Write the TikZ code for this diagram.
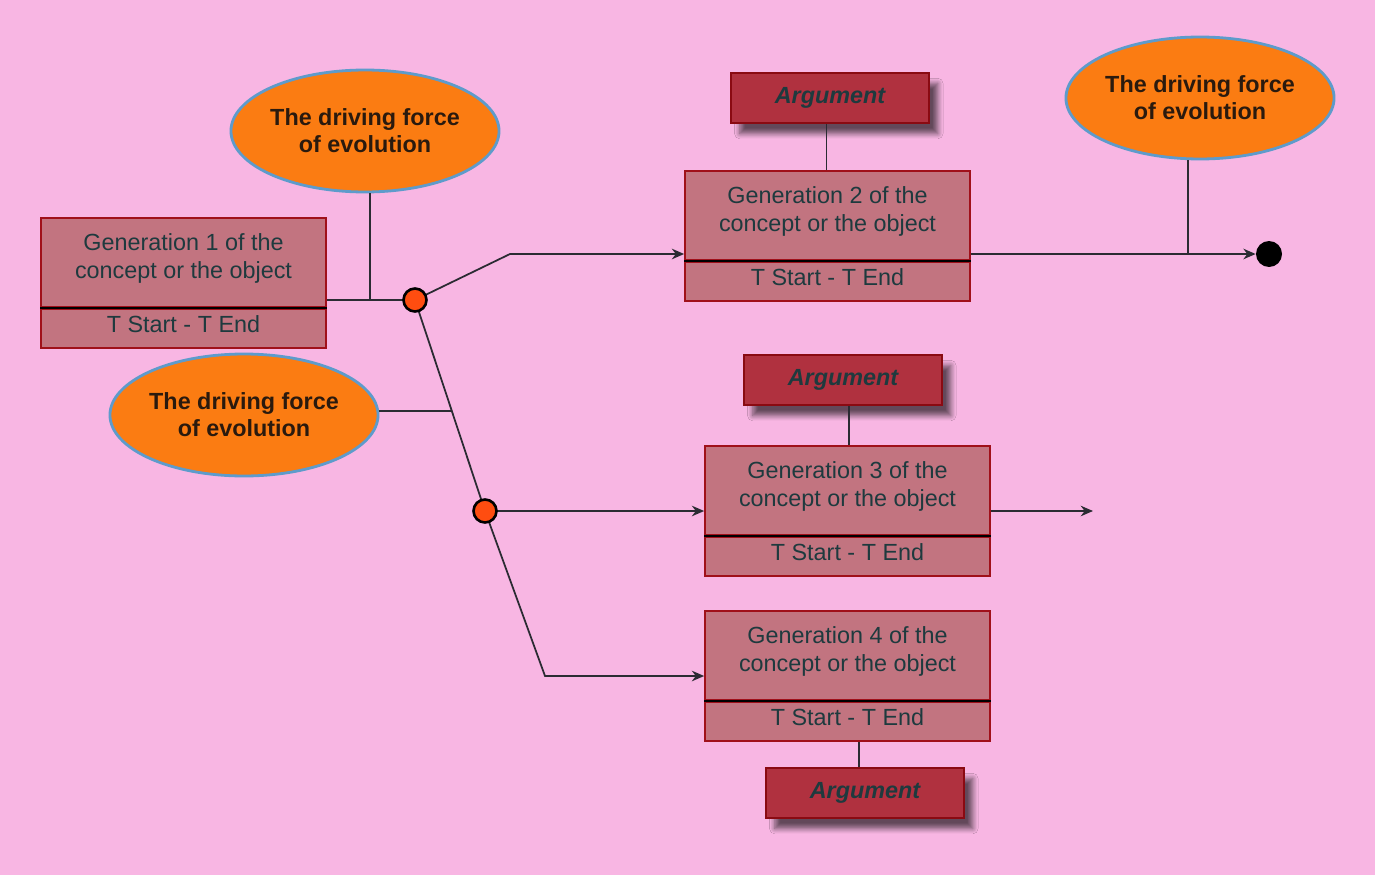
\documentclass[tikz,border=0pt]{standalone}
\usepackage{fontspec}
\setmainfont{Liberation Sans}
\usetikzlibrary{positioning,arrows.meta,shapes.geometric,shadows,shadows.blur}
\definecolor{bgpink}{HTML}{F8B6E3}
\definecolor{genfill}{HTML}{C27480}
\definecolor{genborder}{HTML}{A0101A}
\definecolor{argfill}{HTML}{B0313F}
\definecolor{argborder}{HTML}{8A0A12}
\definecolor{txt}{HTML}{1E3A3E}
\definecolor{forcefill}{HTML}{FB7C12}
\definecolor{forceborder}{HTML}{5E9BCB}
\definecolor{forcetxt}{HTML}{2A1A0E}
\definecolor{juncfill}{HTML}{FF4D10}
\definecolor{linkgray}{HTML}{2B2B33}

\begin{document}
\begin{tikzpicture}[x=0.02cm,y=-0.02cm]
  % Settings
  \tikzset{
    gen/.style={draw=genborder, fill=genfill, line width=1pt, minimum width=5.7cm, minimum height=1.78cm, align=center, text=txt, text depth=7.3pt, font=\fontsize{13.3}{16}\selectfont},
    tspan/.style={gen, minimum height=0.78cm, text depth=4.6pt},
    arg/.style={draw=argborder, fill=argfill, line width=1pt, minimum width=3.96cm, minimum height=1cm, text=txt, font=\fontsize{13.3}{15}\selectfont\bfseries\itshape, blur shadow={shadow xshift=5pt, shadow yshift=-6pt, shadow blur steps=8, shadow blur radius=3pt, shadow opacity=60}},
    force/.style={ellipse, draw=forceborder, fill=forcefill, line width=1.6pt, inner sep=0pt, minimum width=5.32cm, minimum height=2.44cm, align=center, text=forcetxt, font=\fontsize{13.3}{15.5}\selectfont\bfseries},
    junc/.style={circle, draw=black, fill=juncfill, line width=1.5pt, minimum size=0.46cm, inner sep=0pt},
    enddot/.style={circle, fill=black, minimum size=0.52cm, inner sep=0pt},
    link/.style={draw=linkgray, line width=1pt},
    arr/.style={link, -{Stealth[length=7pt,width=6pt]}},
    divider/.style={draw=black, line width=1.2pt},
  }
  \fill[bgpink] (0,0) rectangle (1375,875);
  % Generations
  \node[gen] (gen1) at (183.5,262.5) {Generation 1 of the\\concept or the object};
  \node[tspan, below=0pt of gen1] (time1) {T Start - T End};
  \node[gen] (gen2) at (827.5,215.5) {Generation 2 of the\\concept or the object};
  \node[tspan, below=0pt of gen2] (time2) {T Start - T End};
  \node[gen] (gen3) at (847.5,490.5) {Generation 3 of the\\concept or the object};
  \node[tspan, below=0pt of gen3] (time3) {T Start - T End};
  \node[gen] (gen4) at (847.5,655.5) {Generation 4 of the\\concept or the object};
  \node[tspan, below=0pt of gen4] (time4) {T Start - T End};
  \foreach \i in {1,2,3,4} {\draw[divider] (time\i.north west) -- (time\i.north east);}
  % Arguments
  \node[arg] (arg2) at (830,98) {Argument};
  \node[arg] (arg3) at (843,380) {Argument};
  \node[arg] (arg4) at (865,793) {Argument};
  % Driving forces
  \node[force] (force1) at (365,131) {The driving force\\of evolution};
  \node[force] (force2) at (244,415) {The driving force\\of evolution};
  \node[force] (force3) at (1200,98) {The driving force\\of evolution};
  % Junctions and bends
  \coordinate (j1) at (415,300);
  \coordinate (j2) at (485,511);
  \coordinate (b2) at (510,254);
  \coordinate (b4) at (545,676);
  \coordinate (out3) at (1093,511);
  \path (j1) -- (j2) coordinate[pos=.526] (k);
  \node[enddot] (stop) at (1269,254) {};
  % Connectors
  \draw[link] (j1 -| gen1.east) -- (j1);
  \draw[link] ([xshift=0.1cm]force1.south) -- ([xshift=0.1cm]force1.south |- j1);
  \draw[link] (k -| force2.east) -- (k);
  \draw[link] (j1) -- (j2);
  \draw[arr] (j1) -- (b2) -- (b2 -| gen2.west);
  \draw[arr] (b2 -| gen2.east) -- (stop.west);
  \draw[link] ([xshift=-0.24cm]force3.south) -- ([xshift=-0.24cm]force3.south |- stop);
  \draw[arr] (j2) -- (j2 -| gen3.west);
  \draw[arr] (j2 -| gen3.east) -- (out3);
  \draw[arr] (j2) -- (b4) -- (b4 -| gen4.west);
  \draw[link] ([xshift=-0.02cm]gen2.north) -- ([xshift=-0.02cm]gen2.north |- arg2.south);
  \draw[link] ([xshift=0.03cm]gen3.north) -- ([xshift=0.03cm]gen3.north |- arg3.south);
  \draw[link] ([xshift=-0.12cm]arg4.north) -- ([xshift=-0.12cm]arg4.north |- time4.south);
  % Junction dots
  \node[junc] (dot1) at (j1) {};
  \node[junc] (dot2) at (j2) {};
\end{tikzpicture}
\end{document}
